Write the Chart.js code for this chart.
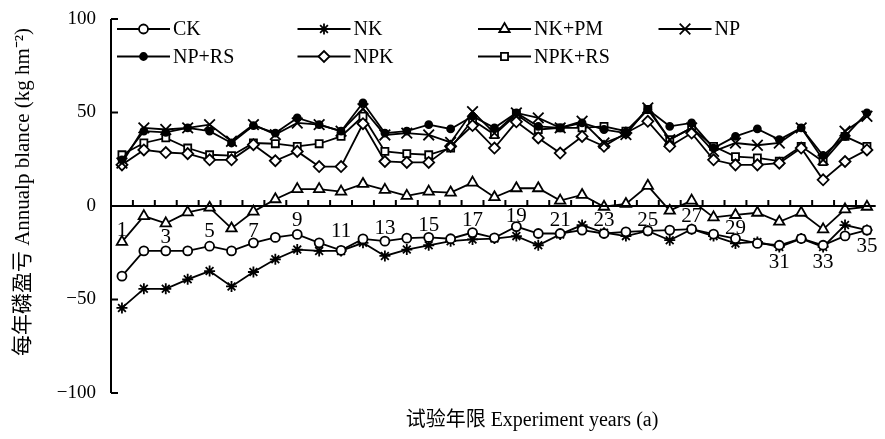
<!DOCTYPE html>
<html>
<head>
<meta charset="utf-8">
<script src="https://cdn.jsdelivr.net/npm/chart.js@4.4.0/dist/chart.umd.min.js"></script>
<style>
  html, body { margin: 0; padding: 0; background: #fff; }
</style>
</head>
<body>
<canvas id="myChart" width="885" height="439"></canvas>
<script>
const years = [1,2,3,4,5,6,7,8,9,10,11,12,13,14,15,16,17,18,19,20,21,22,23,24,25,26,27,28,29,30,31,32,33,34,35];

const ck = [-37.5,-24,-24,-24,-21.5,-24,-19.7,-16.8,-15.2,-19.7,-23.7,-17.6,-18.8,-17.2,-16.8,-17.5,-14.2,-17,-11,-14.7,-14.7,-12.9,-14.7,-13.8,-13.3,-12.9,-12.4,-15,-17.4,-20,-21,-17.4,-21,-16,-12.9];
const nk = [-54.5,-44.3,-44.3,-39.2,-34.8,-43,-35.3,-28.5,-23.3,-24,-24,-19.7,-26.7,-23.3,-21,-18.8,-17.9,-17.4,-16.1,-21,-15.2,-10.2,-14.3,-16.1,-13.3,-18.3,-12.4,-16.1,-20,-19.2,-21.9,-17.4,-21.9,-10.2,-12.9];
const nkpm = [-19.2,-5.4,-9.3,-3.4,-0.9,-12,-3,3.6,9,9,7.7,11.8,8.6,5.4,7.7,7.2,12.5,4.7,9.5,9.5,2.9,5.9,-0.4,1.1,10.8,-2.5,2.9,-6.1,-4.8,-3.6,-8.4,-3.6,-12.5,-1.8,-0.4];
const np = [23,41.8,40.9,41.8,43.5,34.6,43.5,38.2,44.4,43.5,40,52,38,39,38,34,50.5,39,49.8,47.1,41.8,45.3,33.7,38.2,52.5,35.5,41.8,29.2,33.7,32.5,33.7,41.8,24.7,40,48];
const nprs = [24.7,40,39.4,41.8,40,33.7,43,39,47.1,43.5,40,55.2,39,40,43.5,41.2,48,41.8,49.8,42.6,41.8,44.4,40.9,39,51.6,42.6,44.4,31,37.2,41.2,35.5,41.8,27,37.2,49.8];
const npk = [22,30,28.6,28,24.7,24.7,32.8,24.2,29.2,21.1,21.1,44,23.8,23.3,23.3,32,43,31,45,36.4,28.3,37.2,31.9,39,45.3,31.9,39,24.7,22,22,22.9,31,14,23.8,30];
const npkrs = [27.4,33.7,36.4,31,27.4,26.9,33.7,33.3,31.9,33.3,37.2,48,29.2,28,27.4,31,46,38.2,48.9,40.9,41.8,41.8,42.6,40,51.6,35.5,41.8,31.9,26.4,25.7,24,31.9,23.8,37.2,31.9];

const seriesNames = ["CK", "NK", "NK+PM", "NP", "NP+RS", "NPK", "NPK+RS"];
const yTicks = [100, 50, 0, -50, -100];
const xLabels = [1,3,5,7,9,11,13,15,17,19,21,23,25,27,29,31,33,35];
// where each year label sits (in y units), picked to dodge the lines
const xLabelY = [-12.9,-17,-13.4,-13.4,-7.5,-13.4,-11.8,-10.2,-8,-5.4,-7.5,-8,-7.5,-5.4,-11.8,-30,-30,-21.4];

const serif = "'Liberation Serif', 'Times New Roman', 'Noto Sans CJK SC', serif";

const toXY = (arr) => arr.map((v, i) => ({ x: years[i], y: v }));

const styles = [
  { pointStyle: "circle", radius: 4.5, fill: "#fff" },
  { pointStyle: "star", radius: 5.5, fill: "#fff" },
  { pointStyle: "triangle", radius: 6, fill: "#fff" },
  { pointStyle: "crossRot", radius: 7.5, fill: "#fff" },
  { pointStyle: "circle", radius: 3.5, fill: "#000" },
  { pointStyle: "rectRot", radius: 5.5, fill: "#fff" },
  { pointStyle: "rect", radius: 5, fill: "#fff" },
];

const values = [ck, nk, nkpm, np, nprs, npk, npkrs];

const datasets = values.map((arr, i) => ({
  label: seriesNames[i],
  data: toXY(arr),
  borderColor: "#000",
  borderWidth: 1.8,
  pointStyle: styles[i].pointStyle,
  pointRadius: styles[i].radius,
  pointBorderWidth: 1.8,
  pointBorderColor: "#000",
  pointBackgroundColor: styles[i].fill,
  tension: 0,
  clip: false,
}));

const decor = {
  id: "decor",
  afterDatasetsDraw(chart) {
    const { ctx, chartArea, scales } = chart;
    const xs = scales.x, ys = scales.y;
    const y0 = ys.getPixelForValue(0);
    ctx.save();
    ctx.strokeStyle = "#000";
    ctx.fillStyle = "#000";
    ctx.lineWidth = 2;

    // y axis + inward ticks
    ctx.beginPath();
    ctx.moveTo(chartArea.left, chartArea.top);
    ctx.lineTo(chartArea.left, chartArea.bottom);
    yTicks.forEach((t) => {
      const py = ys.getPixelForValue(t);
      ctx.moveTo(chartArea.left, py);
      ctx.lineTo(chartArea.left + 7, py);
    });
    // x axis at zero + upward ticks between years
    ctx.moveTo(chartArea.left, y0);
    ctx.lineTo(chartArea.right, y0);
    for (let k = 1.5; k < 35.4; k++) {
      const px = xs.getPixelForValue(k);
      ctx.moveTo(px, y0);
      ctx.lineTo(px, y0 - 6);
    }
    ctx.stroke();

    // y tick labels
    ctx.font = "19px " + serif;
    ctx.textAlign = "right";
    ctx.textBaseline = "middle";
    yTicks.forEach((t) => {
      const txt = t < 0 ? "\u2212" + Math.abs(t) : String(t);
      ctx.fillText(txt, chartArea.left - 15, ys.getPixelForValue(t));
    });

    // year labels
    ctx.font = "21px " + serif;
    ctx.textAlign = "center";
    xLabels.forEach((v, i) => {
      ctx.fillText(String(v), xs.getPixelForValue(v), ys.getPixelForValue(xLabelY[i]));
    });

    // axis titles
    ctx.font = "20px " + serif;
    ctx.fillText("试验年限 Experiment years (a)", 532, 421);
    ctx.save();
    ctx.translate(23, 192);
    ctx.rotate(-Math.PI / 2);
    ctx.font = "21px " + serif;
    ctx.fillText("每年磷盈亏 Annualp blance (kg hm\u207B\u00B2)", 0, 0);
    ctx.restore();

    // legend, 4 columns x 2 rows
    ctx.font = "20px " + serif;
    ctx.textAlign = "left";
    chart.data.datasets.forEach((ds, i) => {
      const col = i % 4, row = Math.floor(i / 4);
      const lx = 117 + col * 180.5;
      const ly = 29 + row * 27.5;
      ctx.lineWidth = 1.8;
      ctx.strokeStyle = "#000";
      ctx.beginPath();
      ctx.moveTo(lx, ly);
      ctx.lineTo(lx + 53, ly);
      ctx.stroke();
      ctx.fillStyle = ds.pointBackgroundColor;
      Chart.helpers.drawPoint(ctx, {
        pointStyle: ds.pointStyle,
        radius: ds.pointRadius,
        borderWidth: 1.8,
        rotation: 0,
      }, lx + 26.5, ly);
      ctx.fillStyle = "#000";
      ctx.fillText(ds.label, lx + 56, ly + 1);
    });
    ctx.restore();
  },
};

new Chart(document.getElementById("myChart"), {
  type: "line",
  data: { datasets },
  options: {
    responsive: false,
    animation: false,
    layout: { padding: { left: 111, top: 19, right: 0, bottom: 46 } },
    scales: {
      x: { type: "linear", min: 0.5, max: 35.4, display: false },
      y: { type: "linear", min: -100, max: 100, display: false },
    },
    plugins: {
      legend: { display: false },
      tooltip: { enabled: false },
    },
  },
  plugins: [decor],
});
</script>
</body>
</html>
